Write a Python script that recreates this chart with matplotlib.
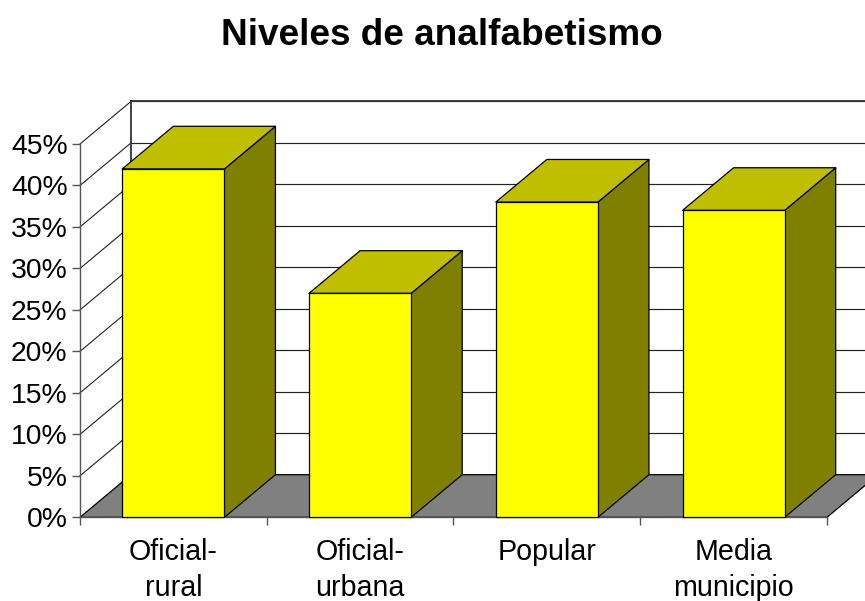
import matplotlib
matplotlib.use("Agg")
import matplotlib.pyplot as plt
from matplotlib.patches import Polygon

plt.rcParams['font.family'] = ['Liberation Sans', 'DejaVu Sans']

title = "Niveles de analfabetismo"
categories = ["Oficial-\nrural", "Oficial-\nurbana", "Popular", "Media\nmunicipio"]
values = [42, 27, 38, 37]
y_ticks = [0, 5, 10, 15, 20, 25, 30, 35, 40, 45]
y_labels = ["0%", "5%", "10%", "15%", "20%", "25%", "30%", "35%", "40%", "45%"]

W, H = 865, 601
fig = plt.figure(figsize=(W / 100, H / 100), dpi=100, facecolor="white")
L, R, B, T = 80, 827, 517.3, 144
ax = fig.add_axes([L / W, 1 - B / H, (R - L) / W, (B - T) / H])
ax.set_xlim(0, len(categories))
ax.set_ylim(0, 45)
ax.patch.set_visible(False)
for s in ("top", "right"):
    ax.spines[s].set_visible(False)
for s in ("left", "bottom"):
    ax.spines[s].set_color("#555555")
    ax.spines[s].set_linewidth(1.0)

# Oblique depth of the 3-D box, in data units
DX = 51 / ((R - L) / len(categories))
DY = 42.6 / ((B - T) / 45)
BAR_W = 0.547
n = len(categories)

# floor
ax.add_patch(Polygon([(0, 0), (n, 0), (n + DX, DY), (DX, DY)], closed=True,
                     fc="#808080", ec="black", lw=0.9, clip_on=False, zorder=1))
# back-wall and side-wall grid lines
for v in y_ticks[1:]:
    ax.plot([DX, n + DX], [v + DY, v + DY], color="#222222", lw=0.85, clip_on=False, zorder=0.5)
    ax.plot([0, DX], [v, v + DY], color="#222222", lw=0.8, clip_on=False, zorder=0.5)
ax.plot([DX, n + DX], [45 + DY, 45 + DY], color="#333333", lw=1.3, clip_on=False, zorder=0.6)
ax.plot([DX, DX], [DY, 45 + DY], color="#333333", lw=1.3, clip_on=False, zorder=0.6)

# bars
for i, v in enumerate(values):
    x0 = i + 0.5 - BAR_W / 2
    x1 = x0 + BAR_W
    kw = dict(closed=True, ec="black", lw=0.9, clip_on=False, joinstyle="round", zorder=3)
    ax.add_patch(Polygon([(x1, 0), (x1 + DX, DY), (x1 + DX, v + DY), (x1, v)], fc="#808000", **kw))
    ax.add_patch(Polygon([(x0, v), (x1, v), (x1 + DX, v + DY), (x0 + DX, v + DY)], fc="#BFBF00", **kw))
    ax.add_patch(Polygon([(x0, 0), (x1, 0), (x1, v), (x0, v)], fc="#FFFF00", **kw))

ax.set_yticks(y_ticks, y_labels, fontsize=20.4, color="black")
ax.set_xticks(range(n + 1), [""] * (n + 1))
ax.set_xticks([i + 0.5 for i in range(n)], categories, minor=True, fontsize=20.6, linespacing=1.38)
ax.tick_params(axis="x", which="minor", length=0, pad=15)
ax.tick_params(axis="both", which="major", length=6, width=1, color="#555555")
ax.tick_params(axis="y", pad=3)
for lab in ax.get_xminorticklabels():
    lab.set_verticalalignment("top")

fig.text(441.5 / W, 1 - 35.5 / H, title, fontsize=26.6, fontweight="bold", ha="center", va="center")
fig.savefig("out.png", dpi=100, facecolor="white")
